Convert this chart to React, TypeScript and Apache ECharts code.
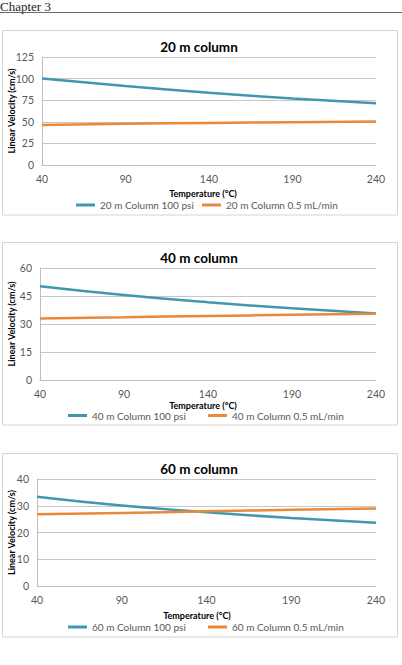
import React, { useEffect, useRef } from "react";
import * as echarts from "echarts";

// Oven temperature (°C) at which linear velocity was evaluated
const temperatures = ["40", "90", "140", "190", "240"];

// Linear velocity (cm/s) — constant head pressure vs. constant flow
const col20Pressure = [100, 91.3, 83.6, 77.1, 71.4];
const col20Flow = [46.3, 47.6, 48.7, 49.6, 50.3];
const col40Pressure = [50.2, 45.5, 41.7, 38.4, 35.6];
const col40Flow = [32.9, 33.6, 34.3, 34.9, 35.5];
const col60Pressure = [33.4, 30.1, 27.6, 25.4, 23.6];
const col60Flow = [26.8, 27.3, 27.9, 28.5, 29.0];

const chartTitles = ["20 m column", "40 m column", "60 m column"];
const pressureNames = ["20 m Column 100 psi", "40 m Column 100 psi", "60 m Column 100 psi"];
const flowNames = ["20 m Column 0.5 mL/min", "40 m Column 0.5 mL/min", "60 m Column 0.5 mL/min"];
const yMax = [125, 60, 40];
const yStep = [25, 15, 10];

const TEAL = "#4198AE";
const ORANGE = "#E8893C";
const FONT = "Lato, 'Open Sans', sans-serif";
const LABEL_GREY = "#595959";

// panel geometry on the page
const panels = [
  { boxTop: 30.5, boxBottom: 215, plotLeft: 42, plotTop: 57, plotBottom: 165, title: 47, xTitleX: 203, xTitleY: 193, legendY: 205, leg1: 76, leg2: 202 },
  { boxTop: 242.5, boxBottom: 425, plotLeft: 40, plotTop: 268, plotBottom: 380, title: 258, xTitleX: 203, xTitleY: 405.5, legendY: 415.5, leg1: 68, leg2: 208 },
  { boxTop: 453.5, boxBottom: 637, plotLeft: 37, plotTop: 479, plotBottom: 586, title: 469, xTitleX: 197, xTitleY: 615, legendY: 627, leg1: 68, leg2: 208 },
];
const PLOT_RIGHT = 376;
const W = 402;
const H = 665;

export default function App() {
  const ref = useRef<HTMLDivElement>(null);

  useEffect(() => {
    if (!ref.current) return;
    const chart = echarts.init(ref.current, null, { renderer: "svg" });

    const pressure = [col20Pressure, col40Pressure, col60Pressure];
    const flow = [col20Flow, col40Flow, col60Flow];

    const grid: any[] = [];
    const xAxis: any[] = [];
    const yAxis: any[] = [];
    const series: any[] = [];
    const legend: any[] = [];
    const graphic: any[] = [
      {
        type: "text",
        left: 0,
        top: 0,
        style: { text: "Chapter 3", font: "13px 'Liberation Serif', 'Times New Roman', serif", fill: "#222" },
      },
      {
        type: "line",
        shape: { x1: 0, y1: 12.5, x2: W, y2: 12.5 },
        style: { stroke: "#6a6a6a", lineWidth: 1 },
      },
    ];

    panels.forEach((p, i) => {
      grid.push({
        left: p.plotLeft,
        top: p.plotTop,
        width: PLOT_RIGHT - p.plotLeft,
        height: p.plotBottom - p.plotTop,
        containLabel: false,
      });
      xAxis.push({
        type: "category",
        gridIndex: i,
        data: temperatures,
        boundaryGap: false,
        axisTick: { show: false },
        axisLine: { lineStyle: { color: "#bfbfbf", width: 1 } },
        axisLabel: { color: LABEL_GREY, fontFamily: FONT, fontSize: 10.5, margin: 8 },
        splitLine: { show: false },
      });
      yAxis.push({
        type: "value",
        gridIndex: i,
        min: 0,
        max: yMax[i],
        interval: yStep[i],
        axisLine: { show: true, lineStyle: { color: "#bfbfbf", width: 1 } },
        axisTick: { show: false },
        axisLabel: { color: LABEL_GREY, fontFamily: FONT, fontSize: 10.5, margin: 8 },
        splitLine: { lineStyle: { color: "#c6c6c6", width: 1 } },
      });
      series.push(
        {
          type: "line",
          name: pressureNames[i],
          xAxisIndex: i,
          yAxisIndex: i,
          data: pressure[i],
          smooth: true,
          symbol: "none",
          lineStyle: { color: TEAL, width: 2.5 },
          itemStyle: { color: TEAL },
          z: 3,
        },
        {
          type: "line",
          name: flowNames[i],
          xAxisIndex: i,
          yAxisIndex: i,
          data: flow[i],
          smooth: true,
          symbol: "none",
          lineStyle: { color: ORANGE, width: 2.5 },
          itemStyle: { color: ORANGE },
          z: 4,
        }
      );
      const legendCommon = {
        icon: "rect",
        itemWidth: 19,
        itemHeight: 3,
        padding: 0,
        top: p.legendY - 6,
        textStyle: { color: LABEL_GREY, fontFamily: FONT, fontSize: 10, lineHeight: 12 },
        selectedMode: false,
      };
      legend.push({ ...legendCommon, left: p.leg1, data: [pressureNames[i]] });
      legend.push({ ...legendCommon, left: p.leg2, data: [flowNames[i]] });

      graphic.push(
        {
          type: "rect",
          shape: { x: 2.5, y: p.boxTop, width: 395, height: p.boxBottom - p.boxTop },
          style: { fill: "none", stroke: "#d4d4d4", lineWidth: 1 },
          z: -1,
        },
        {
          type: "text",
          x: 199,
          y: p.title,
          style: {
            text: chartTitles[i],
            font: `bold 13.5px ${FONT}`,
            fill: "#000",
            textAlign: "center",
            textVerticalAlign: "middle",
          },
        },
        {
          type: "text",
          x: p.xTitleX,
          y: p.xTitleY,
          style: {
            text: "Temperature (°C)",
            font: `bold 9px ${FONT}`,
            fill: "#000",
            textAlign: "center",
            textVerticalAlign: "middle",
          },
        },
        {
          type: "text",
          x: 11,
          y: (p.plotTop + p.plotBottom) / 2,
          rotation: Math.PI / 2,
          style: {
            text: "Linear Velocity (cm/s)",
            font: `bold 9px ${FONT}`,
            fill: "#000",
            textAlign: "center",
            textVerticalAlign: "middle",
          },
        }
      );
    });

    chart.setOption({
      animation: false,
      backgroundColor: "#ffffff",
      grid,
      xAxis,
      yAxis,
      series,
      legend,
      graphic,
    });

    return () => chart.dispose();
  }, []);

  return (
    <div
      ref={ref}
      style={{ position: "absolute", left: 0, top: 0, width: W, height: H }}
    />
  );
}
